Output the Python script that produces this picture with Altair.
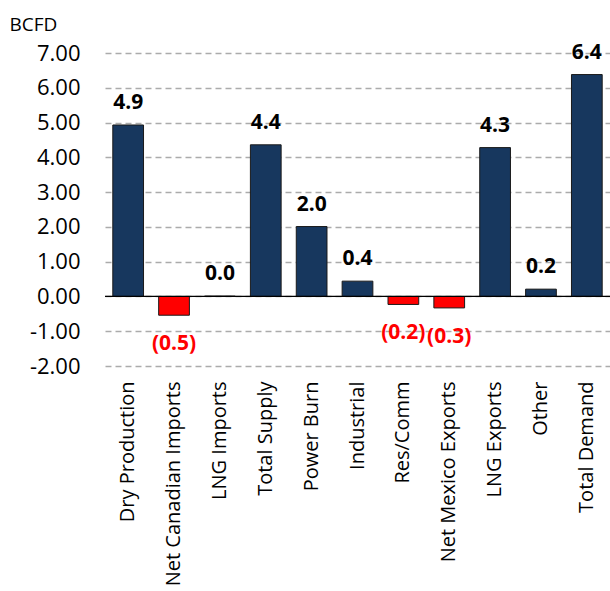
import altair as alt
import pandas as pd

# Natural gas balance change, BCFD
categories = [
    "Dry Production", "Net Canadian Imports", "LNG Imports", "Total Supply",
    "Power Burn", "Industrial", "Res/Comm", "Net Mexico Exports",
    "LNG Exports", "Other", "Total Demand",
]
values = [4.93, -0.54, 0.01, 4.36, 2.01, 0.44, -0.23, -0.33, 4.28, 0.21, 6.38]
y_ticks = [-2, -1, 0, 1, 2, 3, 4, 5, 6, 7]

NAVY = "#17375E"
RED = "#FF0000"
FONT = "Open Sans"


def fmt(v):
    s = f"{abs(v):.1f}"
    return f"({s})" if v < 0 else s


df = pd.DataFrame({
    "cat": categories,
    "val": values,
    "label": [fmt(v) for v in values],
    "sign": ["neg" if v < 0 else "pos" for v in values],
})

x_scale = alt.Scale(paddingInner=0.33, paddingOuter=0.17)
y_scale = alt.Scale(domain=[-2, 7], nice=False)

x_axis = alt.Axis(labelAngle=-90, labelAlign="right", labelBaseline="middle",
                  labelFont=FONT, labelFontSize=20, labelColor="black",
                  labelPadding=15, labelLimit=400, labelOverlap=False,
                  ticks=False, domain=False, grid=False)
y_axis = alt.Axis(values=y_ticks,
                  labelExpr="replace(format(datum.value, '.2f'), '\u2212', '-')",
                  labelFont=FONT, labelFontSize=22, labelColor="black",
                  labelPadding=25, labelOverlap=False, ticks=False, domain=False,
                  grid=True, gridColor="#ABABAB", gridDash=[6, 4], gridWidth=1.5,
                  titleAngle=0, titleFont=FONT, titleFontSize=19,
                  titleFontWeight="normal", titleColor="black",
                  titleAlign="left", titleBaseline="middle",
                  titleX=-96, titleY=-29)

x_enc = alt.X("cat:N", sort=categories, title=None, scale=x_scale, axis=x_axis)
y_enc = alt.Y("val:Q", scale=y_scale, title="BCFD", axis=y_axis)

bars = alt.Chart(df).mark_bar(stroke="#1a1a1a", strokeWidth=1).encode(
    x=x_enc,
    y=y_enc,
    color=alt.Color("sign:N", scale=alt.Scale(domain=["pos", "neg"], range=[NAVY, RED]),
                    legend=None),
)

zero = alt.Chart(pd.DataFrame({"val": [0]})).mark_rule(color="black", strokeWidth=1.2).encode(
    y=y_enc,
)

pos_labels = alt.Chart(df).transform_filter("datum.val >= 0").mark_text(
    font=FONT, fontSize=21, fontWeight="bold", baseline="alphabetic", dy=-16, color="black"
).encode(x=x_enc, y=y_enc, text="label:N")

neg_labels = alt.Chart(df).transform_filter("datum.val < 0").mark_text(
    font=FONT, fontSize=21, fontWeight="bold", baseline="top", dy=18, color=RED
).encode(x=x_enc, y=y_enc, text="label:N")

chart = alt.layer(bars, zero, pos_labels, neg_labels).properties(
    width=505, height=313,
    autosize=alt.AutoSizeParams(type="none"),
    padding={"left": 105, "top": 53, "right": 0, "bottom": 225},
    background="white",
).configure_view(stroke=None)

chart.save("out.html", embed_options={"renderer": "svg", "actions": False})
